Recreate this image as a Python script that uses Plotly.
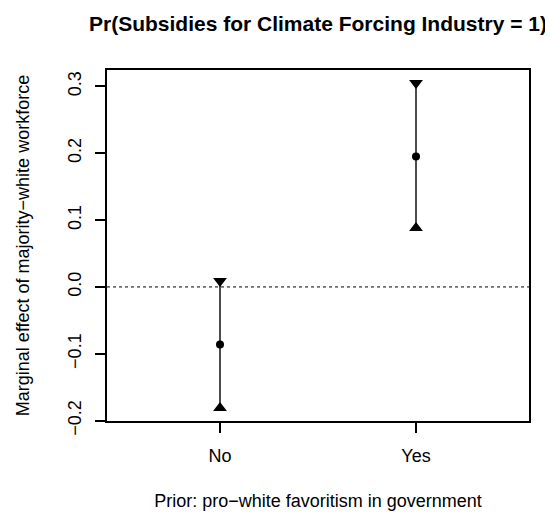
import plotly.graph_objects as go

categories = ["No", "Yes"]
estimate = [-0.086, 0.195]
lower = [-0.181, 0.088]
upper = [0.009, 0.305]
y_ticks = [-0.2, -0.1, 0.0, 0.1, 0.2, 0.3]

xpos = [1, 2]
font = "Liberation Sans, Arial, Helvetica, sans-serif"
fs = 18

fig = go.Figure()
for i, c in enumerate(categories):
    fig.add_trace(go.Scatter(x=[xpos[i], xpos[i]], y=[lower[i], upper[i]], mode="lines",
                             line=dict(color="black", width=1.4), showlegend=False, hoverinfo="skip"))
fig.add_trace(go.Scatter(x=xpos, y=upper, mode="markers",
                         marker=dict(symbol="triangle-down", size=12, color="black"), showlegend=False))
fig.add_trace(go.Scatter(x=xpos, y=lower, mode="markers",
                         marker=dict(symbol="triangle-up", size=12, color="black"), showlegend=False))
fig.add_trace(go.Scatter(x=xpos, y=estimate, mode="markers",
                         marker=dict(symbol="circle", size=8, color="black"), showlegend=False))

fig.add_shape(type="line", xref="paper", x0=0, x1=1, yref="y", y0=0, y1=0,
              line=dict(color="black", width=1, dash="dot"))

fig.update_layout(
    width=553, height=512,
    margin=dict(l=99, r=32, t=62, b=95),
    paper_bgcolor="white", plot_bgcolor="white",
    font=dict(family=font, size=fs, color="black"),
    title=dict(text="<b>Pr(Subsidies for Climate Forcing Industry = 1)</b>",
               x=(99 + 521) / 2 / 553, xanchor="center", y=1 - 16 / 512, yanchor="middle",
               font=dict(size=21, family=font, color="black")),
)
fig.update_xaxes(range=[0.4235, 2.5765], tickvals=xpos, ticktext=categories,
                 showgrid=False, zeroline=False, showline=True, linecolor="black", linewidth=1.5,
                 mirror=True, ticks="outside", ticklen=10, tickcolor="black", tickwidth=1.5,
                 ticklabelstandoff=8,
                 title=dict(text="Prior: pro−white favoritism in government", standoff=29,
                            font=dict(size=fs)))
fig.update_yaxes(range=[-0.2005, 0.3245], tickvals=y_ticks, tickformat=".1f",
                 tickangle=-90,
                 showgrid=False, zeroline=False, showline=True, linecolor="black", linewidth=1.5,
                 mirror=True, ticks="outside", ticklen=10, tickcolor="black", tickwidth=1.5,
                 ticklabelstandoff=7,
                 title=dict(text="Marginal effect of majority−white workforce", standoff=31,
                            font=dict(size=fs)))

fig.write_html("out.html")
